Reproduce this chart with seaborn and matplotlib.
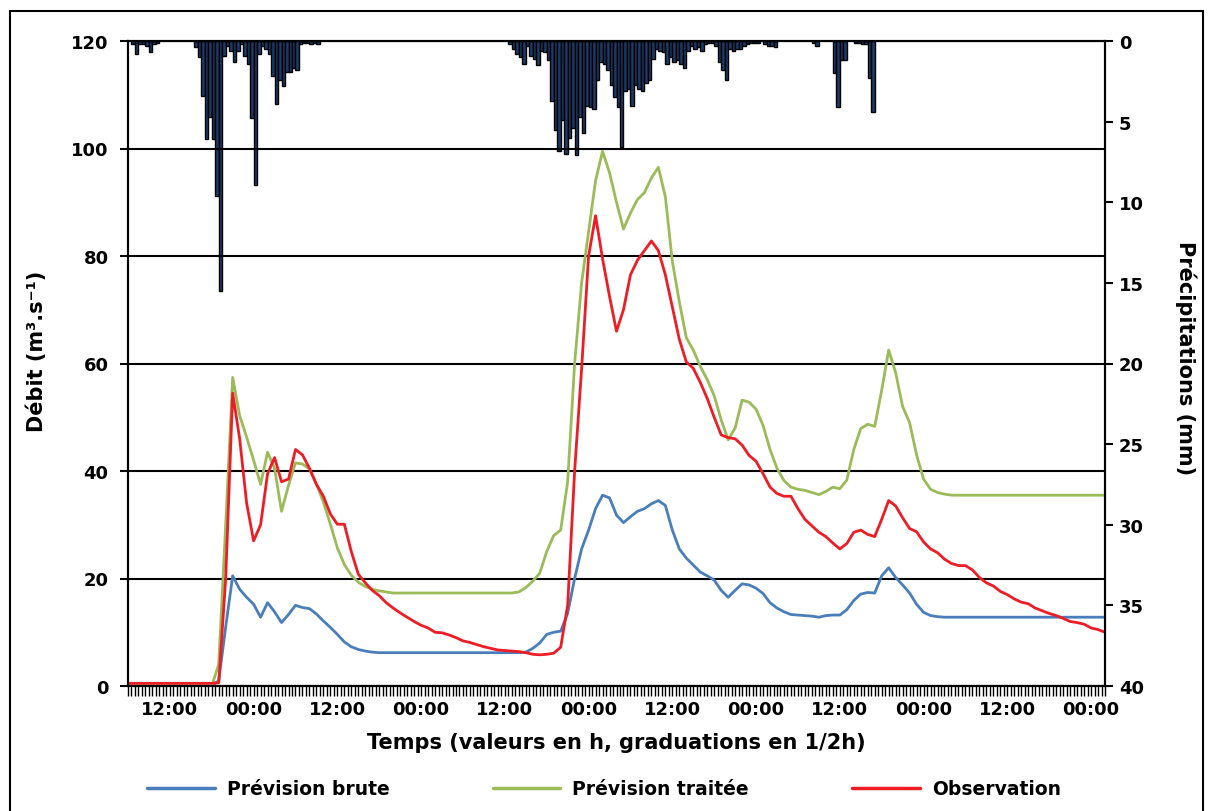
import numpy as np
import pandas as pd
import matplotlib
matplotlib.use("Agg")
import matplotlib.pyplot as plt
import seaborn as sns
from matplotlib.lines import Line2D
from matplotlib.patches import Rectangle
from matplotlib.ticker import FixedLocator, MultipleLocator

# Time axis: hours since 06:00 on day 1, one value per hour
hours = list(range(141))

prevision_brute = [
    0, 0, 0, 0, 0, 0, 0, 0, 0, 0, 0, 0, 0,
    1.0, 11.0, 20.5, 18.0, 16.5, 15.2, 12.8, 15.5, 13.8, 11.8, 13.3, 15.0,
    14.6, 14.4, 13.4, 12.1, 10.9, 9.6, 8.2, 7.3, 6.8, 6.5, 6.3, 6.2,
    6.2, 6.2, 6.2, 6.2, 6.2, 6.2, 6.2, 6.2, 6.2, 6.2,
    6.2, 6.2, 6.2, 6.2, 6.2, 6.2, 6.2, 6.2, 6.2, 6.2,
    6.3, 7.0, 8.0, 9.6, 10.0, 10.2, 13.5, 20.0, 25.5, 29.0, 33.0, 35.5,
    35.0, 31.8, 30.4, 31.5, 32.5, 33.0, 33.9, 34.5, 33.6, 29.0, 25.5, 23.8,
    22.5, 21.2, 20.5, 19.7, 17.8, 16.5, 17.8, 19.0, 18.8, 18.2, 17.2, 15.5,
    14.5, 13.8, 13.3, 13.2, 13.1, 13.0, 12.8, 13.1, 13.2, 13.2, 14.2, 15.9,
    17.1, 17.4, 17.3, 20.5, 22.0, 20.2, 18.8, 17.3, 15.2, 13.7, 13.1, 12.9,
    12.8, 12.8, 12.8, 12.8, 12.8, 12.8, 12.8, 12.8, 12.8, 12.8, 12.8, 12.8,
    12.8, 12.8, 12.8, 12.8, 12.8, 12.8, 12.8, 12.8, 12.8, 12.8, 12.8, 12.8,
]

prevision_traitee = [
    0, 0, 0, 0, 0, 0, 0, 0, 0, 0, 0, 0, 0,
    4.0, 30.0, 57.4, 50.3, 46.3, 42.0, 37.5, 43.5, 40.5, 32.5, 37.3, 41.5,
    41.3, 40.4, 37.6, 34.2, 30.1, 25.7, 22.6, 20.6, 19.3, 18.5, 18.0, 17.7, 17.5,
    17.3, 17.3, 17.3, 17.3, 17.3, 17.3, 17.3, 17.3, 17.3,
    17.3, 17.3, 17.3, 17.3, 17.3, 17.3, 17.3, 17.3, 17.3,
    17.5, 18.3, 19.5, 21.0, 25.0, 28.0, 29.0, 38.0, 60.0, 75.0, 84.5, 94.0,
    99.5, 95.5, 90.0, 85.0, 88.0, 90.5, 91.8, 94.5, 96.5, 91.0, 79.0, 71.5,
    64.8, 62.5, 59.5, 57.0, 54.0, 49.5, 45.8, 48.0, 53.2, 52.8, 51.5, 48.5,
    44.0, 40.5, 38.2, 37.0, 36.6, 36.4, 36.0, 35.6, 36.2, 37.0, 36.7, 38.3,
    44.0, 47.9, 48.7, 48.3, 55.0, 62.5, 58.3, 52.0, 49.0, 43.0, 38.5, 36.6,
    36.0, 35.7,
    35.5, 35.5, 35.5, 35.5, 35.5, 35.5, 35.5, 35.5, 35.5, 35.5, 35.5, 35.5,
    35.5, 35.5, 35.5, 35.5, 35.5, 35.5, 35.5, 35.5, 35.5, 35.5, 35.5,
]

observation = [
    0.5, 0.5, 0.5, 0.5, 0.5, 0.5, 0.5, 0.5, 0.5, 0.5, 0.5, 0.5, 0.5,
    0.6, 20.0, 54.5, 46.0, 34.0, 27.0, 30.0, 39.5, 42.5, 38.0, 38.5, 44.0,
    43.0, 40.5, 37.5, 35.3, 32.0, 30.1, 30.1, 25.0, 20.8, 19.2, 17.8, 16.8,
    15.5, 14.5, 13.6, 12.8, 12.0, 11.3, 10.8, 10.0, 9.9, 9.5, 9.0, 8.4,
    8.1, 7.7, 7.3, 7.0, 6.7, 6.6, 6.5, 6.4, 6.2, 5.9, 5.8, 5.9,
    6.1, 7.2, 15.0, 40.0, 59.0, 80.0, 87.5, 79.5, 72.5, 66.0, 70.0, 76.5,
    79.2, 81.0, 82.8, 81.0, 76.5, 70.5, 64.5, 60.3, 59.1, 56.5, 53.5, 50.0,
    46.7, 46.2, 46.0, 44.8, 42.9, 41.8, 39.5, 37.0, 35.8, 35.3, 35.3, 33.0,
    31.0, 29.8, 28.6, 27.8, 26.6, 25.5, 26.5, 28.6, 29.0, 28.2, 27.8, 31.0,
    34.5, 33.5, 31.3, 29.3, 28.7, 26.8, 25.5, 24.8, 23.6, 22.8, 22.4, 22.4,
    21.6, 20.2, 19.2, 18.6, 17.6, 17.0, 16.2, 15.6, 15.3, 14.5, 14.0, 13.5,
    13.1, 12.6, 12.0, 11.8, 11.5, 10.8, 10.5, 10.0,
]

# Rain: start hour of each half-hour step and depth in mm
rain_hours = [
    0.5, 1.0, 1.5, 2.0, 2.5, 3.0, 3.5, 4.0,
    9.5, 10.0, 10.5, 11.0, 11.5, 12.0, 12.5, 13.0, 13.5, 14.0, 14.5, 15.0,
    15.5, 16.0, 16.5, 17.0, 17.5, 18.0, 18.5, 19.0, 19.5, 20.0, 20.5, 21.0,
    21.5, 22.0, 22.5, 23.0, 23.5, 24.0, 24.5, 25.0, 25.5, 26.0, 26.5, 27.0,
    54.5, 55.0, 55.5, 56.0, 56.5, 57.0, 57.5, 58.0, 58.5, 59.0, 59.5, 60.0,
    60.5, 61.0, 61.5, 62.0, 62.5, 63.0, 63.5, 64.0, 64.5, 65.0, 65.5, 66.0,
    66.5, 67.0, 67.5, 68.0, 68.5, 69.0, 69.5, 70.0, 70.5, 71.0, 71.5, 72.0,
    72.5, 73.0, 73.5, 74.0, 74.5, 75.0, 75.5, 76.0, 76.5, 77.0, 77.5, 78.0,
    78.5, 79.0, 79.5, 80.0, 80.5, 81.0, 81.5, 82.0, 82.5, 83.0, 83.5, 84.0,
    84.5, 85.0, 85.5, 86.0, 86.5, 87.0, 87.5, 88.0, 88.5, 89.0, 89.5, 90.0,
    91.0, 91.5, 92.0, 92.5, 98.0, 98.5,
    101.0, 101.5, 102.0, 102.5, 104.0, 104.5, 105.0, 105.5, 106.0, 106.5,
]
rain_mm = [
    0.2, 0.8, 0.2, 0.2, 0.3, 0.7, 0.2, 0.1,
    0.4, 1.0, 3.4, 6.1, 4.7, 6.1, 9.6, 15.5, 0.9, 0.3, 0.6, 1.3,
    0.6, 0.2, 0.9, 1.4, 4.8, 8.9, 0.8, 0.3, 0.5, 0.8, 2.2, 3.9,
    2.4, 2.8, 1.9, 1.9, 1.7, 1.8, 0.2, 0.1, 0.1, 0.2, 0.1, 0.2,
    0.2, 0.5, 0.8, 1.0, 1.4, 0.3, 0.9, 1.1, 1.5, 0.6, 0.7, 1.2,
    3.7, 5.5, 6.8, 4.9, 7.0, 6.0, 5.4, 7.1, 4.7, 5.7, 4.0, 4.1,
    4.2, 2.4, 1.3, 1.4, 1.8, 2.7, 3.5, 4.1, 6.6, 3.1, 3.0, 4.0,
    2.7, 3.0, 3.1, 2.6, 2.4, 1.1, 0.5, 0.6, 0.7, 1.4, 1.0, 1.3,
    1.2, 1.4, 1.7, 0.6, 0.3, 0.5, 0.4, 0.6, 0.2, 0.1, 0.1, 0.3,
    1.3, 1.8, 2.4, 0.5, 0.6, 0.5, 0.5, 0.3, 0.2, 0.1, 0.1, 0.1,
    0.2, 0.3, 0.3, 0.4, 0.1, 0.3,
    2.0, 4.1, 1.2, 1.2, 0.1, 0.1, 0.2, 0.2, 2.3, 4.4,
]

series_names = ["Prévision brute", "Prévision traitée", "Observation"]
series_colors = ["#4a7ebb", "#9bbb59", "#ee1c24"]
tick_labels = ["12:00", "00:00"] * 6

sns.set_style("white")
plt.rcParams['font.family'] = ['DejaVu Sans']
plt.rcParams['font.weight'] = 'bold'
plt.rcParams['text.color'] = 'black'
plt.rcParams['axes.labelcolor'] = 'black'
plt.rcParams['xtick.color'] = 'black'
plt.rcParams['ytick.color'] = 'black'

fig = plt.figure(figsize=(12.08, 8.12), dpi=100)
ax = fig.add_axes([128 / 1208, 125 / 812, 977 / 1208, 645 / 812])
ax2 = ax.twinx()

# rain bars hanging from the top (right axis inverted)
rain_df = pd.DataFrame({"t": np.array(rain_hours) + 0.25, "mm": rain_mm})
sns.barplot(data=rain_df, x="t", y="mm", native_scale=True, width=1.0,
            color="#1b3a66", saturation=1, edgecolor="black", linewidth=1.0,
            errorbar=None, ax=ax2)
ax2.set_ylim(40, 0)
ax2.set_yticks(range(0, 41, 5))
ax2.set_ylabel("Précipitations (mm)", fontsize=15, fontweight="bold",
               rotation=270, labelpad=22)
ax2.yaxis.set_label_coords(1.094, 0.51)
ax2.tick_params(axis="y", right=True, direction="out", length=6, width=1.5,
                labelsize=13, pad=4, colors="black")

# discharge lines
df = pd.DataFrame({
    "Temps": hours * 3,
    "Débit": prevision_brute + prevision_traitee + observation,
    "Série": [n for n in series_names for _ in hours],
})
sns.lineplot(data=df, x="Temps", y="Débit", hue="Série", hue_order=series_names,
             palette=dict(zip(series_names, series_colors)), linewidth=2,
             ax=ax, legend=False)

ax.set_zorder(ax2.get_zorder() + 1)
ax.patch.set_visible(False)

ax.set_xlim(0, 140)
ax2.set_xlim(0, 140)
ax.set_ylim(0, 120)
ax.set_yticks(range(0, 121, 20))
ax.xaxis.set_major_locator(FixedLocator(list(range(6, 139, 12))))
ax.set_xticklabels(tick_labels)
ax.xaxis.set_minor_locator(MultipleLocator(0.5))
ax.tick_params(axis="x", which="both", bottom=True, direction="out", length=7,
               width=1, colors="black")
ax.tick_params(axis="x", which="major", labelsize=13, pad=3)
ax.tick_params(axis="y", left=True, direction="out", length=6, width=1.5,
               labelsize=13, pad=8, colors="black")
ax.yaxis.grid(True, color="black", linewidth=1.5)
ax.xaxis.grid(False)

ax.set_xlabel("Temps (valeurs en h, graduations en 1/2h)", fontsize=15,
              fontweight="bold", labelpad=10)
ax.set_ylabel("Débit (m³.s⁻¹)", fontsize=15, fontweight="bold")
ax.yaxis.set_label_coords(-0.083, 0.52)

for a in (ax, ax2):
    for s in a.spines.values():
        s.set_color("black")
        s.set_linewidth(1.5)

for lab in ax.get_xticklabels() + ax.get_yticklabels() + ax2.get_yticklabels():
    lab.set_fontweight("bold")

handles = [Line2D([], [], color=c, linewidth=2.5) for c in series_colors]
fig.legend(handles, series_names, loc="center", bbox_to_anchor=(0.5, 22 / 812),
           ncol=3, frameon=False, handlelength=3.6,
           handletextpad=0.65, columnspacing=5.5,
           prop={"weight": "bold", "size": 13.5})

# thin frame around the whole picture
fig.add_artist(Rectangle((10 / 1208, -0.05), 1193 / 1208, 800 / 812 + 0.05,
                         transform=fig.transFigure, fill=False,
                         edgecolor="black", linewidth=1.5))

fig.savefig("out.png", dpi=100)
